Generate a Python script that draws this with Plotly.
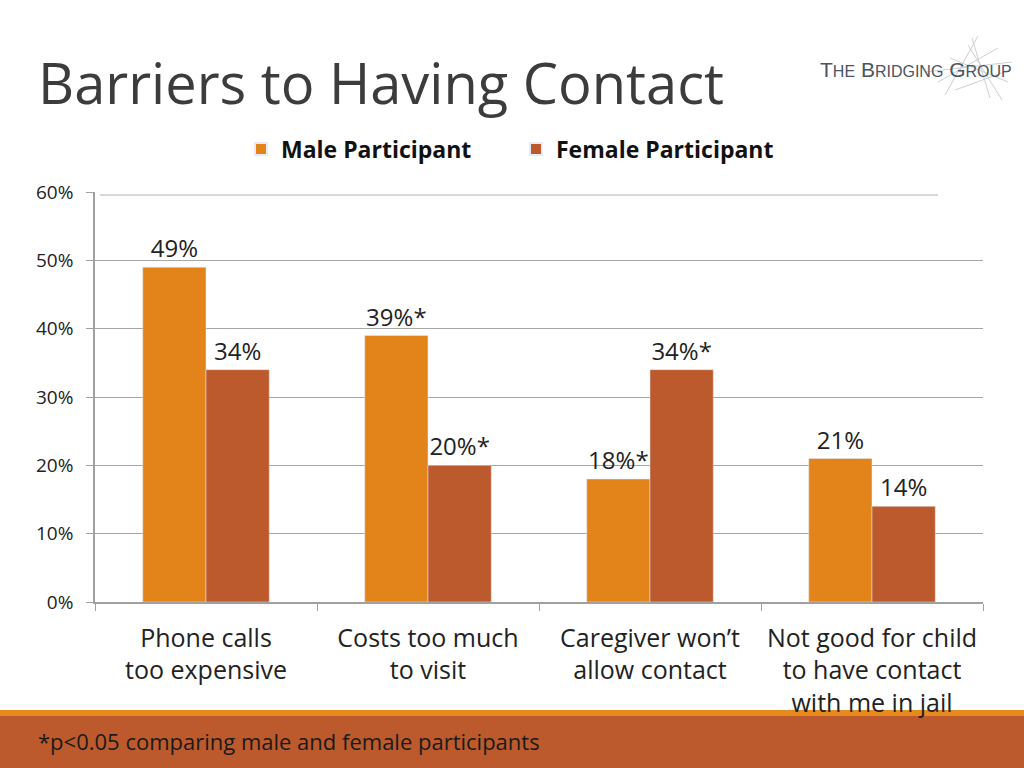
import plotly.graph_objects as go

categories = ["Phone calls<br>too expensive", "Costs too much<br>to visit",
              "Caregiver won’t<br>allow contact", "Not good for child<br>to have contact<br>with me in jail"]
male_values = [49, 39, 18, 21]
female_values = [34, 20, 34, 14]
male_labels = ["49%", "39%*", "18%*", "21%"]
female_labels = ["34%", "20%*", "34%*", "14%"]
y_ticks = [0, 10, 20, 30, 40, 50, 60]
y_tick_labels = ["0%", "10%", "20%", "30%", "40%", "50%", "60%"]

MALE = "#E3841A"
FEMALE = "#BD5A2D"
FONT = "'Open Sans', Lato, sans-serif"

W, H = 1024, 768
L, R, T, B = 95, 983, 192, 602


def px_x(x):
    return (x - L) / (R - L)


def px_y(y):
    return (B - y) / (B - T)


fig = go.Figure()
fig.add_trace(go.Bar(name="Male Participant", x=categories, y=male_values,
                     marker_color=MALE, text=male_labels, textposition="outside",
                     textfont=dict(size=24, color="#222222", family=FONT),
                     cliponaxis=False))
fig.add_trace(go.Bar(name="Female Participant", x=categories, y=female_values,
                     marker_color=FEMALE, text=female_labels, textposition="outside",
                     textfont=dict(size=24, color="#222222", family=FONT),
                     cliponaxis=False))

shapes = [
    dict(type="rect", xref="paper", yref="paper", x0=px_x(0), x1=px_x(W),
         y0=px_y(716), y1=px_y(710), fillcolor="#E68A1E", line_width=0, layer="below"),
    dict(type="rect", xref="paper", yref="paper", x0=px_x(0), x1=px_x(W),
         y0=px_y(768), y1=px_y(716), fillcolor="#BC5A2D", line_width=0, layer="below"),
    dict(type="line", xref="paper", yref="paper", x0=px_x(100), x1=px_x(938),
         y0=px_y(195), y1=px_y(195), line=dict(color="#B0B0B0", width=1)),
]
logo_lines = [(972, 38, 990, 98), (978, 36, 945, 95), (950, 58, 1008, 82), (925, 72, 1012, 62),
              (968, 45, 1002, 100), (938, 82, 998, 48), (955, 90, 1010, 70)]
for x0, y0, x1, y1 in logo_lines:
    shapes.append(dict(type="line", xref="paper", yref="paper", x0=px_x(x0), y0=px_y(y0),
                       x1=px_x(x1), y1=px_y(y1), line=dict(color="#CBD0D5", width=1)))

annotations = [
    dict(text="Barriers to Having Contact", xref="paper", yref="paper",
         x=px_x(36), y=px_y(82), xanchor="left", yanchor="middle", showarrow=False,
         font=dict(size=56, color="#3c3c3c", family=FONT)),
    dict(text="*p<0.05 comparing male and female participants", xref="paper", yref="paper",
         x=px_x(36), y=px_y(741), xanchor="left", yanchor="middle", showarrow=False,
         font=dict(size=22, color="#1a1a1a", family=FONT)),
    dict(text="T<span style='font-size:16px'>HE</span> B<span style='font-size:16px'>RIDGING</span> "
              "G<span style='font-size:16px'>ROUP</span>",
         xref="paper", yref="paper", x=px_x(916), y=px_y(70), xanchor="center", yanchor="middle",
         showarrow=False, font=dict(size=21, color="#4a5560", family="Liberation Sans, Arial")),
]

fig.update_layout(
    width=W, height=H,
    margin=dict(l=L, r=W - R, t=T, b=H - B, pad=0),
    paper_bgcolor="white", plot_bgcolor="white",
    barmode="group", bargap=0.43, bargroupgap=0,
    font=dict(family=FONT, color="#222222"),
    legend=dict(orientation="h", x=px_x(516), y=px_y(149), xanchor="center", yanchor="middle",
                font=dict(size=23, color="#111111", family=FONT, weight="bold"),
                entrywidth=230, entrywidthmode="pixels",
                itemsizing="constant", traceorder="normal", bgcolor="rgba(0,0,0,0)"),
    shapes=shapes,
    annotations=annotations,
    showlegend=True,
)
fig.update_xaxes(showline=True, linecolor="#A0A0A0", linewidth=1.5, ticks="outside",
                 tickson="boundaries", ticklen=7, tickcolor="#A0A0A0", ticklabelstandoff=13,
                 tickfont=dict(size=25, color="#222222", family=FONT), showgrid=False)
fig.update_yaxes(range=[0, 60], tickvals=y_ticks, ticktext=y_tick_labels,
                 showline=True, linecolor="#A0A0A0", linewidth=1.5, ticks="outside",
                 ticklen=7, tickcolor="#A0A0A0", showgrid=True, gridcolor="#A6A6A6",
                 gridwidth=1.2, zeroline=False, ticklabelstandoff=9,
                 tickfont=dict(size=19, color="#222222", family=FONT))

fig.write_html("out.html", config={"displayModeBar": False},
               post_script="document.body.style.margin='0';")
